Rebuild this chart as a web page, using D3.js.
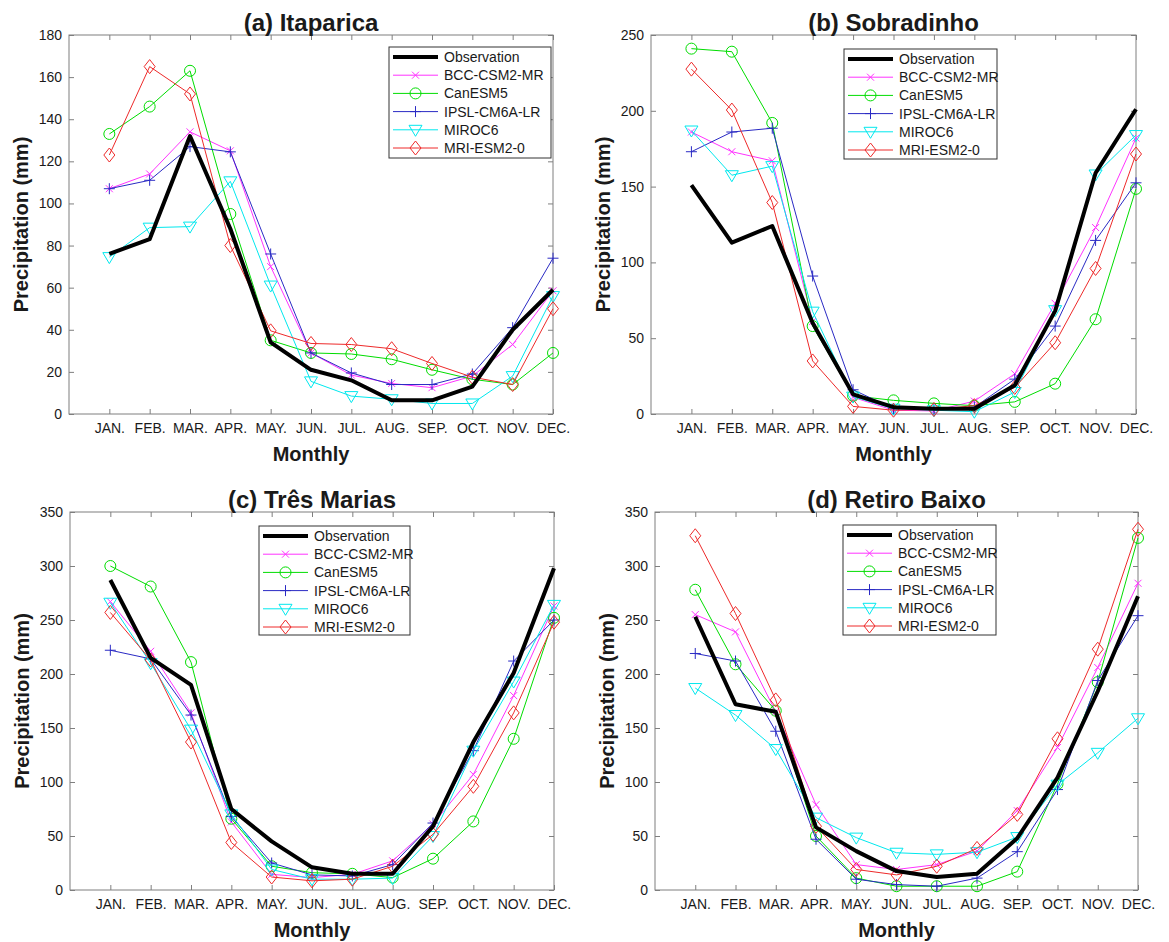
<!DOCTYPE html>
<html>
  <head>
    <meta charset="utf-8">
    <title>Monthly precipitation, observation vs CMIP6 models</title>
    <script src="https://d3js.org/d3.v7.min.js"></script>
    <style>
      body { margin: 0; background: #fff; }
      text { font-family: "Liberation Sans", Arial, sans-serif; fill: #1a1a1a; }
      .title { font-weight: bold; font-size: 24px; }
      .label { font-weight: bold; font-size: 20px; }
      .tick text { font-size: 14px; }
      .legend text { font-size: 14px; }
    </style>
  </head>
  <body>
    <div id="chart"></div>
    <script>
      var months = ["JAN.", "FEB.", "MAR.", "APR.", "MAY.", "JUN.", "JUL.", "AUG.", "SEP.", "OCT.", "NOV.", "DEC."];
      var seriesNames = ["Observation", "BCC-CSM2-MR", "CanESM5", "IPSL-CM6A-LR", "MIROC6", "MRI-ESM2-0"];

      // (a) Itaparica
      var itaparicaObs  = [76, 83, 132, 88, 34, 21, 16, 6.5, 6.5, 13, 40, 59];
      var itaparicaBCC  = [107, 114, 134, 125, 70, 29, 18.5, 14.5, 12.5, 18, 33, 58.5];
      var itaparicaCan  = [133, 146, 163, 95, 35, 29, 28.5, 26, 21, 16.5, 14, 29];
      var itaparicaIPSL = [107, 111, 127, 124.5, 76, 29, 19.5, 14, 14, 19, 41, 74];
      var itaparicaMIR  = [74.5, 88.5, 89, 110.5, 61, 15.5, 8.5, 7, 5, 5, 18, 56];
      var itaparicaMRI  = [123, 165, 152, 80, 39.5, 33.5, 33, 31, 24, 17.5, 14, 50];

      // (b) Sobradinho
      var sobradinhoObs  = [151, 113, 124, 60, 13, 4.5, 3.5, 3.5, 19, 68, 159, 201];
      var sobradinhoBCC  = [186, 173, 167, 61, 11, 2.5, 2, 8.5, 26.5, 73, 123, 182];
      var sobradinhoCan  = [241, 239, 192, 58, 12, 9, 7, 5.5, 8, 20, 62.5, 148.5];
      var sobradinhoIPSL = [173, 186, 188.5, 91, 16, 3.5, 3, 4.5, 23, 58, 114.5, 152.5];
      var sobradinhoMIR  = [187, 157.5, 163.5, 67.5, 11.5, 3.5, 2.5, 1.5, 14.5, 68.5, 158, 184];
      var sobradinhoMRI  = [227.5, 200.5, 139.5, 35, 5, 2.5, 3, 5.5, 17.5, 47, 96, 171.5];

      // (c) Tres Marias
      var tresMariasObs  = [287, 215, 190, 75, 45, 21, 15, 15, 59, 137, 201, 298];
      var tresMariasBCC  = [267, 221, 164, 63, 14.5, 11.5, 14.5, 27, 61, 107, 180, 263];
      var tresMariasCan  = [300, 281, 211, 66, 22, 16, 15, 11.5, 29, 63.5, 140, 252];
      var tresMariasIPSL = [222, 214, 162, 68, 25, 14, 13, 23.5, 62, 129, 212, 250];
      var tresMariasMIR  = [266, 210, 148.5, 70, 19, 10, 10, 11, 50, 129, 193, 264];
      var tresMariasMRI  = [257, 213, 137, 44, 12, 8.5, 10, 22, 51.5, 96, 164, 248];

      // (d) Retiro Baixo
      var retiroObs  = [253, 172, 165, 58, 36, 17.5, 12, 15, 48, 104, 184, 272];
      var retiroBCC  = [255, 239, 165, 79, 23.5, 19, 23.5, 36, 73.5, 132, 206, 284];
      var retiroCan  = [278, 209, 166, 50, 11, 3.5, 3.5, 3.5, 17, 98, 192.5, 326];
      var retiroIPSL = [219, 212, 147, 47, 10, 5, 3.5, 11, 35.5, 93, 194, 254];
      var retiroMIR  = [187, 162, 130.5, 67, 48.5, 34.5, 33, 35, 49, 97.5, 127, 159];
      var retiroMRI  = [328, 256, 176, 59, 19, 14, 22, 38.5, 70, 140, 223, 334];

      var yMaxes = [180, 250, 350, 350];
      var yStep = [20, 50, 50, 50];
      var titles = ["(a) Itaparica", "(b) Sobradinho", "(c) Três Marias", "(d) Retiro Baixo"];

      var colors = ["#000000", "#ff33ff", "#00dd00", "#2a2ac4", "#00e8ee", "#ee2a2a"];
      var markers = ["none", "x", "circle", "plus", "triangle", "diamond"];

      var panels = [
        { title: titles[0], ymax: yMaxes[0], step: yStep[0], left: 69, right: 553, top: 35, bottom: 414,
          legend: [389, 47, 162, 111],
          series: [itaparicaObs, itaparicaBCC, itaparicaCan, itaparicaIPSL, itaparicaMIR, itaparicaMRI] },
        { title: titles[1], ymax: yMaxes[1], step: yStep[1], left: 651, right: 1136, top: 35, bottom: 414,
          legend: [844, 49, 153, 110],
          series: [sobradinhoObs, sobradinhoBCC, sobradinhoCan, sobradinhoIPSL, sobradinhoMIR, sobradinhoMRI] },
        { title: titles[2], ymax: yMaxes[2], step: yStep[2], left: 70, right: 554, top: 512, bottom: 890,
          legend: [259, 526, 151, 109],
          series: [tresMariasObs, tresMariasBCC, tresMariasCan, tresMariasIPSL, tresMariasMIR, tresMariasMRI] },
        { title: titles[3], ymax: yMaxes[3], step: yStep[3], left: 655, right: 1138, top: 512, bottom: 890,
          legend: [843, 525, 153, 110],
          series: [retiroObs, retiroBCC, retiroCan, retiroIPSL, retiroMIR, retiroMRI] }
      ];

      var width = 1169;
      var height = 942;
      var axisColor = "#7f7f7f";

      var svg = d3.select("#chart")
        .append("svg")
        .attr("width", width)
        .attr("height", height);

      function drawMarker(g, type, x, y, color) {
        if (type === "circle") {
          g.append("circle").attr("cx", x).attr("cy", y).attr("r", 5.5)
            .attr("fill", "none").attr("stroke", color);
        } else if (type === "x") {
          var s = 3.5;
          g.append("path").attr("d", "M" + (x - s) + "," + (y - s) + "L" + (x + s) + "," + (y + s) +
            "M" + (x - s) + "," + (y + s) + "L" + (x + s) + "," + (y - s))
            .attr("stroke", color).attr("fill", "none");
        } else if (type === "plus") {
          var p = 5.5;
          g.append("path").attr("d", "M" + (x - p) + "," + y + "L" + (x + p) + "," + y +
            "M" + x + "," + (y - p) + "L" + x + "," + (y + p))
            .attr("stroke", color).attr("fill", "none");
        } else if (type === "triangle") {
          g.append("path").attr("d", "M" + (x - 6.5) + "," + (y - 4.5) + "L" + (x + 6.5) + "," + (y - 4.5) +
            "L" + x + "," + (y + 6.5) + "Z")
            .attr("stroke", color).attr("fill", "none");
        } else if (type === "diamond") {
          g.append("path").attr("d", "M" + x + "," + (y - 7) + "L" + (x + 5.5) + "," + y +
            "L" + x + "," + (y + 7) + "L" + (x - 5.5) + "," + y + "Z")
            .attr("stroke", color).attr("fill", "none");
        }
      }

      panels.forEach(function(p) {
        var x = d3.scaleLinear().domain([0, 12]).range([p.left, p.right]);
        var y = d3.scaleLinear().domain([0, p.ymax]).range([p.bottom, p.top]);
        var yTicks = d3.range(0, p.ymax + 0.1, p.step);
        var xTicks = d3.range(1, 13);

        var g = svg.append("g");

        // axes: labelled bottom/left, tick-only top/right, all ticks inward
        var bottomAxis = g.append("g")
          .attr("transform", "translate(0," + p.bottom + ")")
          .call(d3.axisBottom(x).tickValues(xTicks).tickSize(-5).tickPadding(9)
            .tickFormat(function(d) { return months[d - 1]; }));
        var leftAxis = g.append("g")
          .attr("transform", "translate(" + p.left + ",0)")
          .call(d3.axisLeft(y).tickValues(yTicks).tickSize(-5).tickPadding(7));
        var topAxis = g.append("g")
          .attr("transform", "translate(0," + p.top + ")")
          .call(d3.axisTop(x).tickValues(xTicks).tickSize(-5).tickFormat(""));
        var rightAxis = g.append("g")
          .attr("transform", "translate(" + p.right + ",0)")
          .call(d3.axisRight(y).tickValues(yTicks).tickSize(-5).tickFormat(""));

        [bottomAxis, leftAxis, topAxis, rightAxis].forEach(function(a) {
          a.select(".domain").remove();
          a.selectAll(".tick line").attr("stroke", axisColor);
          a.selectAll(".tick text").attr("font-family", null).attr("font-size", null);
        });

        g.append("rect")
          .attr("x", p.left).attr("y", p.top)
          .attr("width", p.right - p.left).attr("height", p.bottom - p.top)
          .attr("fill", "none").attr("stroke", axisColor).attr("stroke-width", 1);

        var line = d3.line()
          .x(function(d, i) { return x(i + 1); })
          .y(function(d) { return y(d); });

        // models first, observation on top
        [1, 2, 3, 4, 5, 0].forEach(function(si) {
          var vals = p.series[si];
          g.append("path")
            .datum(vals)
            .attr("d", line)
            .attr("fill", "none")
            .attr("stroke", colors[si])
            .attr("stroke-width", si === 0 ? 4 : 1)
            .attr("stroke-linejoin", "round");
          if (si > 0) {
            vals.forEach(function(v, i) {
              drawMarker(g, markers[si], x(i + 1), y(v), colors[si]);
            });
          }
        });

        // titles and labels
        var cx = (p.left + p.right) / 2;
        g.append("text").attr("class", "title")
          .attr("x", cx).attr("y", p.top - 4)
          .attr("text-anchor", "middle")
          .text(p.title);
        g.append("text").attr("class", "label")
          .attr("x", cx).attr("y", p.bottom + 47)
          .attr("text-anchor", "middle")
          .text("Monthly");
        g.append("text").attr("class", "label")
          .attr("transform", "translate(" + (p.left - 41) + "," + ((p.top + p.bottom) / 2) + ") rotate(-90)")
          .attr("text-anchor", "middle")
          .text("Precipitation (mm)");

        // legend
        var lg = g.append("g").attr("class", "legend");
        var lx = p.legend[0], ly = p.legend[1];
        lg.append("rect")
          .attr("x", lx).attr("y", ly)
          .attr("width", p.legend[2]).attr("height", p.legend[3])
          .attr("fill", "#fff").attr("stroke", "#333").attr("stroke-width", 1);
        seriesNames.forEach(function(name, si) {
          var ry = ly + 10 + si * 18.2;
          lg.append("line")
            .attr("x1", lx + 4).attr("x2", lx + 49)
            .attr("y1", ry).attr("y2", ry)
            .attr("stroke", colors[si])
            .attr("stroke-width", si === 0 ? 4 : 1);
          if (si > 0) drawMarker(lg, markers[si], lx + 26.5, ry, colors[si]);
          lg.append("text")
            .attr("x", lx + 55).attr("y", ry + 5)
            .text(name);
        });
      });
    </script>
  </body>
</html>
